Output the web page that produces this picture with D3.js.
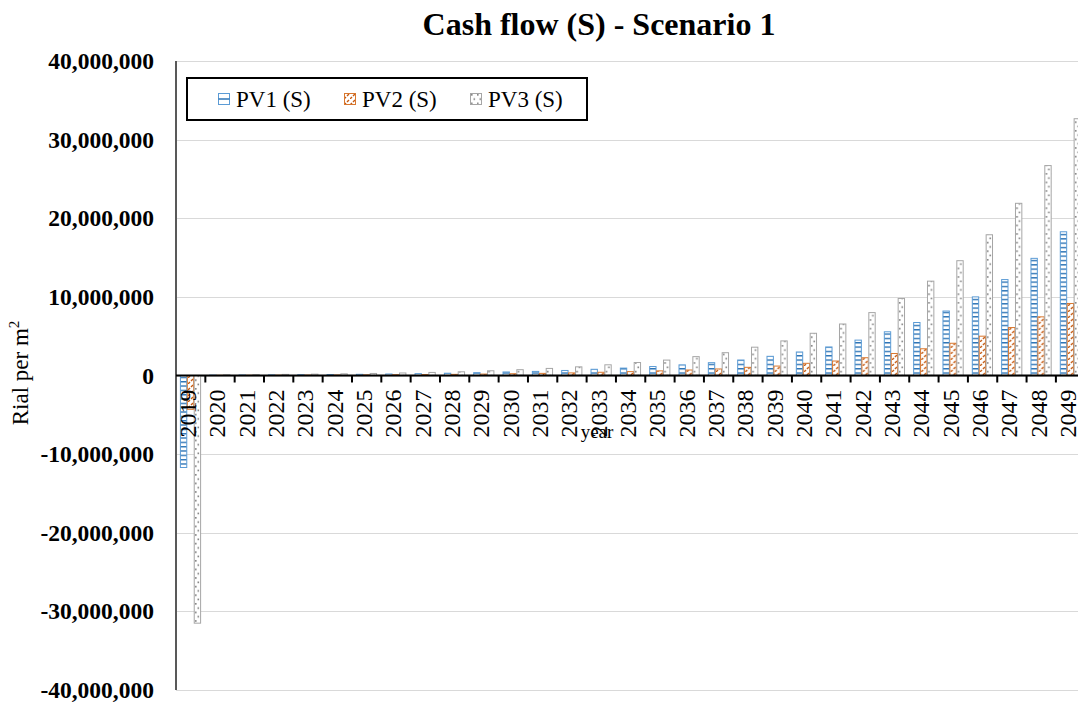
<!DOCTYPE html>
<html>
<head>
<meta charset="utf-8">
<script src="https://cdn.jsdelivr.net/npm/d3@7"></script>
<style>
  html, body { margin: 0; padding: 0; background: #fff; }
  svg { display: block; }
  svg text { font-family: "Liberation Serif", "Times New Roman", serif; }
</style>
</head>
<body>
<svg id="chart" width="1078" height="707"></svg>
<script>
// ---------- data ----------
const years = ["2019","2020","2021","2022","2023","2024","2025","2026","2027","2028",
  "2029","2030","2031","2032","2033","2034","2035","2036","2037","2038","2039","2040",
  "2041","2042","2043","2044","2045","2046","2047","2048","2049"];
const seriesNames = ["PV1 (S)", "PV2 (S)", "PV3 (S)"];
const pv1 = [-11700000, 50000, 65000, 80000, 100000, 120000, 150000, 190000, 230000, 290000,
  360000, 450000, 520000, 640000, 790000, 940000, 1140000, 1350000, 1630000, 1970000, 2440000, 2990000,
  3630000, 4500000, 5560000, 6740000, 8200000, 10000000, 12200000, 14900000, 18280000];
const pv2 = [-4300000, 25000, 32000, 40000, 50000, 62000, 75000, 95000, 115000, 145000,
  180000, 225000, 270000, 330000, 410000, 490000, 590000, 700000, 830000, 1040000, 1200000, 1550000,
  1840000, 2260000, 2800000, 3400000, 4100000, 5000000, 6100000, 7460000, 9160000];
const pv3 = [-31500000, 90000, 110000, 140000, 170000, 210000, 260000, 320000, 390000, 470000,
  600000, 740000, 900000, 1100000, 1360000, 1650000, 1960000, 2400000, 2900000, 3600000, 4400000, 5370000,
  6550000, 8000000, 9800000, 12000000, 14600000, 17900000, 21900000, 26700000, 32660000];
const yTicks = [-40000000, -30000000, -20000000, -10000000, 0, 10000000, 20000000, 30000000, 40000000];
const chartTitle = "Cash flow (S) - Scenario 1";
const xTitle = "year";
const yTitle = "Rial per m";

// ---------- setup ----------
const FONT = "Liberation Serif, Times New Roman, serif";
const svg = d3.select("#chart");
const plotLeft = 176, plotTop = 61, plotBottom = 690, bandW = 29.33;
const x = d3.scaleBand().domain(years).range([plotLeft, plotLeft + bandW * years.length]).padding(0);
const y = d3.scaleLinear().domain([-40000000, 40000000]).range([plotBottom, plotTop]);
const xs = d3.scaleBand().domain(seriesNames).range([4.4, 24.6]).paddingInner(0.08);

const colors = { "PV1 (S)": "#2E75B6", "PV2 (S)": "#C55A11", "PV3 (S)": "#7F7F7F" };
const strokes = { "PV1 (S)": "#5B9BD5", "PV2 (S)": "#D9782F", "PV3 (S)": "#A6A6A6" };

// ---------- patterns ----------
const defs = svg.append("defs");
const p1 = defs.append("pattern").attr("id", "pat1").attr("patternUnits", "userSpaceOnUse")
  .attr("width", 8).attr("height", 4.33);
p1.append("rect").attr("width", 8).attr("height", 4.33).attr("fill", "#fff");
p1.append("rect").attr("y", 0).attr("width", 8).attr("height", 1.4).attr("fill", colors["PV1 (S)"]);
const p2 = defs.append("pattern").attr("id", "pat2").attr("patternUnits", "userSpaceOnUse")
  .attr("width", 6).attr("height", 6);
p2.append("rect").attr("width", 6).attr("height", 6).attr("fill", "#fff");
p2.append("path").attr("d", "M0,6 L2,4 M3,3 L5,1").attr("stroke", colors["PV2 (S)"]).attr("stroke-width", 1.4);
const p3 = defs.append("pattern").attr("id", "pat3").attr("patternUnits", "userSpaceOnUse")
  .attr("width", 6).attr("height", 8.6);
p3.append("rect").attr("width", 6).attr("height", 8.6).attr("fill", "#fff");
p3.append("rect").attr("x", 1).attr("y", 1).attr("width", 1.6).attr("height", 1.6).attr("fill", colors["PV3 (S)"]);
p3.append("rect").attr("x", 3.5).attr("y", 5.3).attr("width", 1.6).attr("height", 1.6).attr("fill", colors["PV3 (S)"]);
const patIds = { "PV1 (S)": "url(#pat1)", "PV2 (S)": "url(#pat2)", "PV3 (S)": "url(#pat3)" };

// ---------- title ----------
svg.append("text").attr("x", 599).attr("y", 35).attr("text-anchor", "middle")
  .attr("font-family", FONT).attr("font-size", 32).attr("font-weight", "bold").attr("fill", "#000").text(chartTitle);

// ---------- grid ----------
svg.append("g").selectAll("line").data(yTicks).join("line")
  .attr("x1", plotLeft).attr("x2", 1078)
  .attr("y1", d => Math.round(y(d)) + 0.5).attr("y2", d => Math.round(y(d)) + 0.5)
  .attr("stroke", "#D9D9D9").attr("stroke-width", 1);

// ---------- y axis ----------
const fmt = d3.format(",");
const yAxis = d3.axisLeft(y).tickValues(yTicks).tickSize(0).tickPadding(22)
  .tickFormat(d => fmt(d).replace("\u2212", "-"));
const gy = svg.append("g").attr("transform", `translate(${plotLeft},0)`).call(yAxis)
  .attr("font-family", FONT);
gy.select(".domain").remove();
gy.selectAll("text").attr("font-size", 23.5).attr("font-weight", "bold")
  .attr("font-family", FONT).attr("fill", "#000");

// ---------- bars ----------
const data = years.map((yr, i) => ({ year: yr, vals: [pv1[i], pv2[i], pv3[i]] }));
const groups = svg.append("g").selectAll("g").data(data).join("g")
  .attr("transform", d => `translate(${x(d.year)},0)`);
groups.selectAll("rect").data(d => d.vals.map((v, k) => ({ key: seriesNames[k], v })))
  .join("rect")
  .attr("x", d => xs(d.key))
  .attr("width", xs.bandwidth())
  .attr("y", d => y(Math.max(0, d.v)))
  .attr("height", d => Math.abs(y(d.v) - y(0)))
  .attr("fill", d => patIds[d.key])
  .attr("stroke", d => strokes[d.key]).attr("stroke-width", 1);

// ---------- y axis line ----------
svg.append("line").attr("x1", plotLeft).attr("x2", plotLeft).attr("y1", plotTop).attr("y2", plotBottom)
  .attr("stroke", "#595959").attr("stroke-width", 2);

// ---------- x axis ----------
const x0 = y(0);
const xAxis = d3.axisBottom(x).tickSize(0).tickPadding(0);
const gx = svg.append("g").attr("transform", `translate(0,${x0})`).call(xAxis)
  .attr("font-family", FONT);
gx.select(".domain").remove();
gx.selectAll("text")
  .attr("transform", "rotate(-90)")
  .attr("text-anchor", "end")
  .attr("x", -14)
  .attr("y", -3)
  .attr("dy", "0.35em")
  .attr("font-size", 24)
  .attr("font-family", FONT)
  .attr("fill", "#000");
svg.append("line").attr("x1", plotLeft).attr("x2", 1078).attr("y1", x0).attr("y2", x0)
  .attr("stroke", "#000").attr("stroke-width", 2);
svg.append("g").selectAll("line").data(years).join("line")
  .attr("x1", d => x(d) + x.bandwidth()).attr("x2", d => x(d) + x.bandwidth())
  .attr("y1", x0).attr("y2", x0 + 7).attr("stroke", "#000").attr("stroke-width", 2);

// ---------- axis titles ----------
svg.append("text").attr("x", 597).attr("y", 438).attr("text-anchor", "middle")
  .attr("font-family", FONT).attr("font-size", 19).attr("fill", "#000").text(xTitle);
const yt = svg.append("text").attr("transform", "translate(28,373) rotate(-90)")
  .attr("text-anchor", "middle").attr("font-family", FONT).attr("font-size", 23).attr("fill", "#000");
yt.append("tspan").text(yTitle);
yt.append("tspan").attr("dy", -9).attr("font-size", 15).text("2");

// ---------- legend ----------
const lg = svg.append("g");
lg.append("rect").attr("x", 187).attr("y", 78).attr("width", 400).attr("height", 42)
  .attr("fill", "#fff").attr("stroke", "#000").attr("stroke-width", 2);
const legX = [218, 344, 470];
seriesNames.forEach((s, k) => {
  const gk = lg.append("g").attr("transform", `translate(${legX[k]},93)`);
  gk.append("rect").attr("x", 0.5).attr("y", 0.5).attr("width", 11).attr("height", 11)
    .attr("fill", k === 0 ? "#fff" : patIds[s]).attr("stroke", strokes[s]).attr("stroke-width", 1);
  if (k === 0) gk.append("line").attr("x1", 0.5).attr("x2", 11.5).attr("y1", 6).attr("y2", 6)
    .attr("stroke", colors[s]).attr("stroke-width", 1.5);
  gk.append("text").attr("x", 18).attr("y", 14).attr("font-family", FONT)
    .attr("font-size", 23).attr("fill", "#000").text(s);
});
</script>
</body>
</html>
